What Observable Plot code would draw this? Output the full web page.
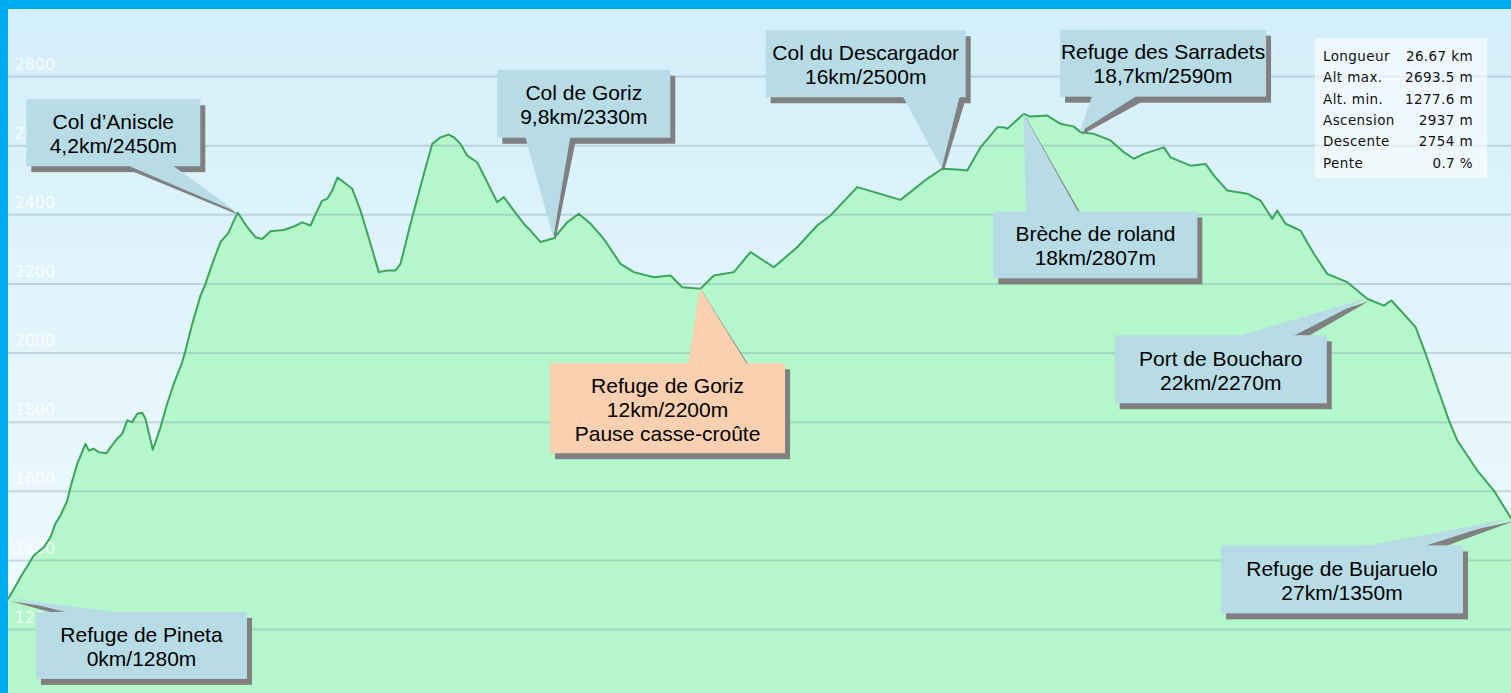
<!DOCTYPE html>
<html><head><meta charset="utf-8">
<script src="https://cdn.jsdelivr.net/npm/d3@7"></script>
<script src="https://cdn.jsdelivr.net/npm/@observablehq/plot@0.6"></script>
<style>
html,body{margin:0;padding:0;background:#00aeef;width:1511px;height:693px;overflow:hidden}
#wrap{position:absolute;left:8px;top:9px;width:1503px;height:684px;overflow:hidden}
</style></head><body><div id="wrap"></div>
<script>
// Distance (km) and elevation (m) read from the profile
const km = [0,0.213,0.449,0.626,0.745,0.834,0.923,1.042,1.100,1.219,
1.366,1.425,1.514,1.602,1.739,1.810,1.929,2.018,2.106,2.195,
2.284,2.372,2.431,2.561,2.697,2.816,2.933,3.082,3.141,3.260,
3.407,3.496,3.615,3.762,3.909,3.998,4.069,4.236,4.383,4.502,
4.649,4.885,5.063,5.212,5.359,5.478,5.567,5.655,5.744,5.838,
5.950,6.099,6.246,6.424,6.571,6.720,6.867,6.956,7.134,7.370,
7.519,7.666,7.813,7.902,8.021,8.140,8.317,8.495,8.672,8.789,
8.967,9.144,9.263,9.441,9.676,9.914,10.120,10.327,10.564,10.860,
11.096,11.451,11.747,11.955,12.280,12.516,12.871,13.167,13.580,13.995,
14.350,14.586,15.060,15.828,16.302,16.568,16.893,17.012,17.248,17.545,
17.662,17.722,18.017,18.136,18.432,18.668,18.904,19.023,19.259,19.555,
19.791,19.969,20.146,20.501,20.620,20.975,21.241,21.388,21.626,21.981,
22.217,22.424,22.513,22.661,22.927,23.163,23.401,23.756,24.110,24.405,
24.537,24.702,24.968,25.146,25.353,25.559,25.708,26.063,26.357,26.670];
const elev = [1290,1351,1414,1438,1467,1507,1530,1573,1612,1679,
1737,1718,1723,1713,1710,1727,1752,1766,1805,1800,
1824,1827,1810,1720,1785,1853,1911,1973,2007,2084,
2166,2200,2258,2321,2349,2383,2406,2364,2335,2330,
2352,2356,2366,2378,2369,2412,2441,2446,2470,2508,
2494,2475,2412,2316,2234,2239,2239,2258,2374,2518,
2605,2624,2632,2624,2605,2571,2552,2494,2436,2451,
2412,2374,2354,2321,2332,2378,2403,2374,2330,2258,
2234,2219,2224,2190,2186,2224,2234,2292,2248,2306,
2369,2398,2480,2443,2504,2533,2530,2528,2595,2653,
2653,2649,2692,2684,2687,2663,2655,2639,2634,2615,
2581,2562,2576,2595,2566,2542,2547,2514,2470,2461,
2441,2388,2412,2374,2354,2287,2229,2205,2157,2137,
2152,2123,2075,1998,1901,1805,1747,1660,1602,1520];
const yTicks = [1200,1400,1600,1800,2000,2200,2400,2600,2800];

// Stats panel
const statLabels = ["Longueur","Alt max.","Alt. min.","Ascension","Descente","Pente"];
const statValues = ["26.67 km","2693.5 m","1277.6 m","2937 m","2754 m","0.7 %"];

// Waypoint callouts: text and the profile point they refer to
const calloutText = [
  ["Col d’Aniscle","4,2km/2450m"],
  ["Refuge de Pineta","0km/1280m"],
  ["Col de Goriz","9,8km/2330m"],
  ["Col du Descargador","16km/2500m"],
  ["Refuge des Sarradets","18,7km/2590m"],
  ["Brèche de roland","18km/2807m"],
  ["Refuge de Goriz","12km/2200m","Pause casse-croûte"],
  ["Port de Boucharo","22km/2270m"],
  ["Refuge de Bujaruelo","27km/1350m"]
];
const calloutKm   = [4.069, 0, 9.676, 16.568, 19.023, 18.017, 12.280, 24.110, 26.670];
const calloutElev = [2406, 1290, 2332, 2533, 2639, 2692, 2186, 2157, 1520];

// Layout of the callouts (pixel offsets from the anchor point)
const calloutLayout = [
  {bx:-211, by:-113, w:174, h:67, edge:"bottom", b0:101, b1:146, fill:"#b7dce6"},
  {bx:28,   by:14,   w:211, h:67, edge:"top",    b0:34,  b1:87,  fill:"#b7dce6"},
  {bx:-56,  by:-168, w:173, h:68, edge:"bottom", b0:28,  b1:73,  fill:"#b7dce6"},
  {bx:-176, by:-138, w:200, h:67, edge:"bottom", b0:137, b1:194, fill:"#b7dce6"},
  {bx:-20,  by:-102, w:206, h:67, edge:"bottom", b0:32,  b1:77,  fill:"#b7dce6"},
  {bx:-30,  by:98,   w:204, h:67, edge:"top",    b0:33,  b1:85,  fill:"#b7dce6"},
  {bx:-150, by:75,   w:235, h:90, edge:"top",    b0:138, b1:197, fill:"#fad0b0"},
  {bx:-252, by:37,   w:212, h:68, edge:"top",    b0:123, b1:178, fill:"#b7dce6"},
  {bx:-290, by:27,   w:242, h:68, edge:"top",    b0:142, b1:202, fill:"#b7dce6"}
];

const data = km.map((k, i) => ({km: k, elev: elev[i]}));

const plot = Plot.plot({
  width: 1503,
  height: 684,
  marginTop: 0, marginRight: 0, marginBottom: 0, marginLeft: 0,
  style: {background: "linear-gradient(#d3eff9, #f3fbfe)", overflow: "hidden"},
  x: {domain: [0, 26.67], range: [0, 1503], axis: null},
  y: {domain: [1200, 2800], range: [620, 67], axis: null},
  marks: [
    Plot.areaY(data, {x: "km", y1: 1000, y2: "elev", fill: "#b4f7cb", curve: "linear"}),
    Plot.ruleY(yTicks, {stroke: "#7f9aa5", strokeOpacity: 0.35, strokeWidth: 2}),
    Plot.text(yTicks, {x: 0, y: d => d, text: d => String(d), textAnchor: "start", dx: 6, dy: -12,
      fill: "white", fillOpacity: 0.85, fontSize: 16, fontFamily: "DejaVu Sans"}),
    Plot.line(data, {x: "km", y: "elev", stroke: "#3ba55c", strokeWidth: 2, curve: "linear"})
  ]
});
document.getElementById("wrap").appendChild(plot);

const xs = plot.scale("x"), ys = plot.scale("y");
const sx = xs.apply ? (v => xs.apply(v)) : d3.scaleLinear(xs.domain, xs.range);
const sy = ys.apply ? (v => ys.apply(v)) : d3.scaleLinear(ys.domain, ys.range);
const svg = d3.select(plot);

// Stats panel
const sg = svg.append("g").attr("font-family", "DejaVu Sans").attr("font-size", 13.5)
  .attr("letter-spacing", "0.4px").attr("fill", "#111");
sg.append("rect").attr("x", 1307).attr("y", 29).attr("width", 172).attr("height", 140)
  .attr("fill", "white").attr("fill-opacity", 0.6);
statLabels.forEach((t, i) => {
  const y = 47 + i * 21.4;
  sg.append("text").attr("x", 1315).attr("y", y).attr("dy", "0.35em")
    .attr("text-anchor", "start").text(t);
  sg.append("text").attr("x", 1465).attr("y", y).attr("dy", "0.35em")
    .attr("text-anchor", "end").text(statValues[i]);
});

// Callouts
const SDX = 5, SDY = 6;
calloutText.forEach((lines, i) => {
  const L = calloutLayout[i];
  const ax = sx(calloutKm[i]), ay = sy(calloutElev[i]);
  const x0 = ax + L.bx, y0 = ay + L.by;
  const ey = L.edge === "bottom" ? y0 + L.h : y0;
  const inward = L.edge === "bottom" ? -1 : 1;
  const tri = (dx, dy, adx, ady) => [
    [x0 + L.b0 + dx, ey + dy + inward], [x0 + L.b1 + dx, ey + dy + inward], [ax + adx, ay + ady]
  ].map(p => p.join(",")).join(" ");
  const g = svg.append("g");
  g.append("rect").attr("x", x0 + SDX).attr("y", y0 + SDY).attr("width", L.w).attr("height", L.h).attr("fill", "#808080");
  g.append("polygon").attr("points", tri(SDX, SDY, 2, 3)).attr("fill", "#808080");
  g.append("polygon").attr("points", tri(0, 0, 0, 0)).attr("fill", L.fill);
  g.append("rect").attr("x", x0).attr("y", y0).attr("width", L.w).attr("height", L.h).attr("fill", L.fill);
  const cx = x0 + L.w / 2, cy = y0 + L.h / 2;
  lines.forEach((t, j) => {
    g.append("text").attr("x", cx).attr("y", cy + (j - (lines.length - 1) / 2) * 24 + 1)
      .attr("dy", "0.35em").attr("text-anchor", "middle")
      .attr("font-family", "Liberation Sans, Arial, sans-serif").attr("font-size", 21)
      .attr("fill", "#000").text(t);
  });
});
</script></body></html>
